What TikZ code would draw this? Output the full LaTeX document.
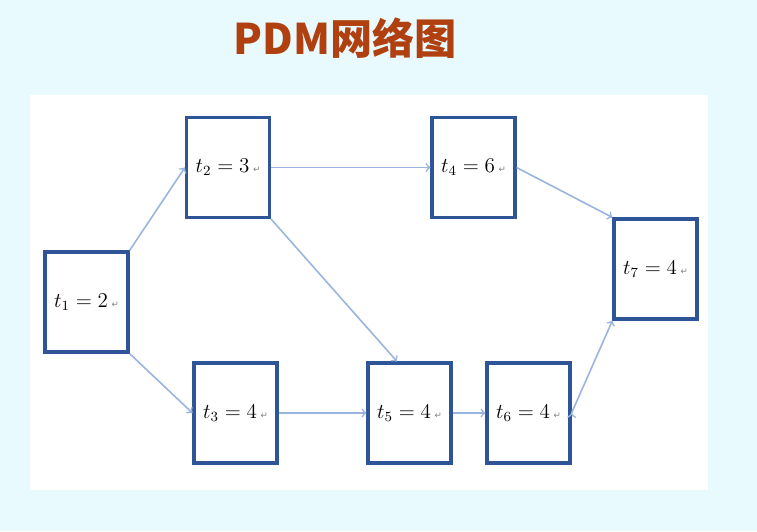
\documentclass[tikz,border=0pt]{standalone}
\usepackage{fontspec}
\newfontfamily\cjk{Noto Sans CJK SC}
\newfontfamily\dejavu{DejaVu Sans}
\usetikzlibrary{positioning}

\definecolor{boxblue}{HTML}{2E5597}
\definecolor{arrblue}{HTML}{9AB4E0}
\definecolor{titlered}{HTML}{B0400F}
\definecolor{bgcyan}{HTML}{E8FAFD}

\tikzset{
  task/.style={draw=boxblue, line width=1.8pt, fill=white,
    minimum width=1.66cm, minimum height=2cm, font=\large},
  link/.style={->, draw=arrblue, line width=0.9pt, >=to},
}
\newcommand{\ret}{\,{\dejavu\tiny\color{gray}↵}}

\begin{document}
\begin{tikzpicture}[x=0.02cm, y=-0.02cm]
  \fill[bgcyan] (0,0) rectangle (757,531);
  \useasboundingbox (0,0) rectangle (757,531);
  \fill[white] (30,95) rectangle (708,490);
  \node[font=\cjk\bfseries\fontsize{24}{28}\selectfont, text=titlered] (title) at (345,38) {PDM网络图};

  \node[task] (t1) at (86.5,302) {$t_1=2$\ret};
  \node[task] (t2) at (228,167.5) {$t_2=3$\ret};
  \node[task] (t4) at (473.5,167.5) {$t_4=6$\ret};
  \node[task] (t7) at (655.5,269) {$t_7=4$\ret};
  \node[task] (t3) at (235.5,413) {$t_3=4$\ret};
  \node[task] (t5) at (409.5,413) {$t_5=4$\ret};
  \node[task] (t6) at (528.5,413) {$t_6=4$\ret};

  \path[link]
    (t1.north east) edge (t2.west)
    (t1.south east) edge (t3.west)
    (t2.east) edge (t4.west)
    (t2.south east) edge ([xshift=-0.25cm]t5.north)
    (t4.east) edge (t7.north west)
    (t3.east) edge (t5.west)
    (t5.east) edge (t6.west)
    (t6.east) edge (t7.south west);
\end{tikzpicture}
\end{document}
